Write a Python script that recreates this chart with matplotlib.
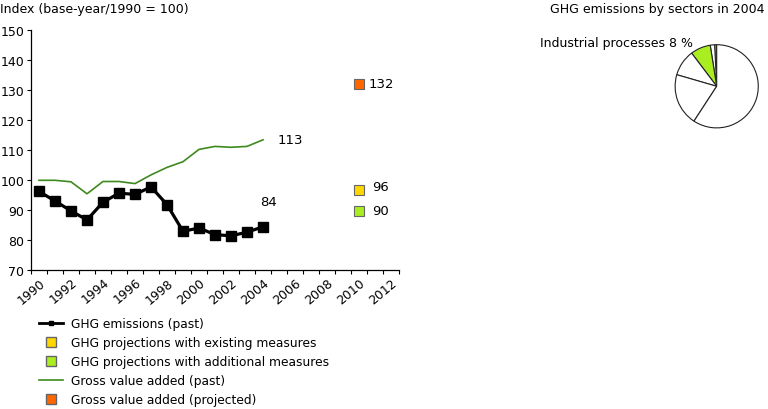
import matplotlib.pyplot as plt
from matplotlib.lines import Line2D
import numpy as np

# data
years = list(range(1990, 2005))
ghg_past = [96.2, 93.0, 89.7, 86.7, 92.6, 95.6, 95.2, 97.7, 91.8, 82.9, 84.0, 81.8, 81.4, 82.6, 84.4]
gva_past = [99.9, 99.9, 99.4, 95.4, 99.5, 99.5, 98.8, 101.7, 104.2, 106.1, 110.2, 111.2, 110.9, 111.2, 113.4]

proj_year = 2010
proj_values = [96.8, 89.8, 132.1]   # existing, additional, GVA projected
proj_labels = ["96", "90", "132"]
proj_colors = ['#FFD700', '#AAEE22', '#FF6600']

pie_shares = [0.8, 1.7, 7.8, 10.2, 20.3, 59.2]
pie_colors = ['#A9C4D6', 'white', '#AAEE22', 'white', 'white', 'white']

plt.rcParams['font.family'] = 'DejaVu Sans'
plt.rcParams['font.size'] = 9

fig = plt.figure(figsize=(7.68, 4.10), dpi=100)
ax = fig.add_axes([31/768, 1 - 271/410, 368/768, 240/410])

green = '#3E8A1E'
ax.plot(years, gva_past, color=green, lw=1.2, zorder=2)
ax.plot(years, ghg_past, color='black', lw=2.3, marker='s', ms=6.5, zorder=3)
for v, c in zip(proj_values, proj_colors):
    ax.plot(proj_year, v, marker='s', ms=7, mfc=c, mec='#666666', mew=0.8, ls='none', zorder=4)

# value labels
ax.text(2004.9, gva_past[-1], "113", va='center', ha='left', fontsize=9.5)
ax.text(2003.8, 92.9, "84", va='center', ha='left', fontsize=9.5)
ax.text(2010.6, proj_values[2], proj_labels[2], va='center', ha='left', fontsize=9.5)
ax.text(2010.8, proj_values[0] + 1.0, proj_labels[0], va='center', ha='left', fontsize=9.5)
ax.text(2010.8, proj_values[1], proj_labels[1], va='center', ha='left', fontsize=9.5)

ax.set_xlim(1989.5, 2012.5)
ax.set_ylim(70, 150)
ax.set_yticks(np.arange(70, 151, 10))
ax.set_xticks(range(1990, 2013, 2))
ax.set_xticklabels([str(y) for y in range(1990, 2013, 2)], rotation=40,
                   ha='right', rotation_mode='anchor')
ax.set_xticks(np.arange(1989.5, 2013, 1), minor=True)
ax.tick_params(axis='x', which='major', length=0, pad=4, labelsize=9)
ax.tick_params(axis='x', which='minor', length=3, width=0.8)
ax.tick_params(axis='y', length=3, width=0.8, pad=2, labelsize=9)
for s in ['top', 'right']:
    ax.spines[s].set_visible(False)
for s in ['left', 'bottom']:
    ax.spines[s].set_linewidth(0.9)

fig.text(0.5/768, 1 - 9/410, "Index (base-year/1990 = 100)", va='center', ha='left', fontsize=9)

# legend
handles = [
    Line2D([], [], color='black', lw=2, marker='s', ms=2.5),
    Line2D([], [], marker='s', ms=7, mfc=proj_colors[0], mec='#666666', ls='none'),
    Line2D([], [], marker='s', ms=7, mfc=proj_colors[1], mec='#666666', ls='none'),
    Line2D([], [], color=green, lw=1.2),
    Line2D([], [], marker='s', ms=7, mfc=proj_colors[2], mec='#666666', ls='none'),
]
labels = ["GHG emissions (past)", "GHG projections with existing measures",
          "GHG projections with additional measures", "Gross value added (past)",
          "Gross value added (projected)"]
fig.legend(handles, labels, loc='upper left', bbox_to_anchor=(34/768, 1 - 313/410),
           frameon=False, fontsize=8.8, handlelength=2.0, labelspacing=0.5,
           handletextpad=0.6, borderaxespad=0)

# pie
r = 42
cx, cy = 716.7, 87.3
pax = fig.add_axes([(cx - r) / 768, 1 - (cy + r) / 410, 2 * r / 768, 2 * r / 410])
pax.pie(pie_shares, colors=pie_colors, startangle=90, counterclock=True,
        wedgeprops=dict(edgecolor='#222222', linewidth=0.8))
pax.set_xlim(-1.01, 1.01)
pax.set_ylim(-1.01, 1.01)
pax.set_aspect('equal')

fig.text(765/768, 1 - 9/410, "GHG emissions by sectors in 2004", ha='right', va='center', fontsize=9)
fig.text(540/768, 1 - 44/410, "Industrial processes 8 %", ha='left', va='center', fontsize=9)

fig.savefig('out.png', dpi=100)
